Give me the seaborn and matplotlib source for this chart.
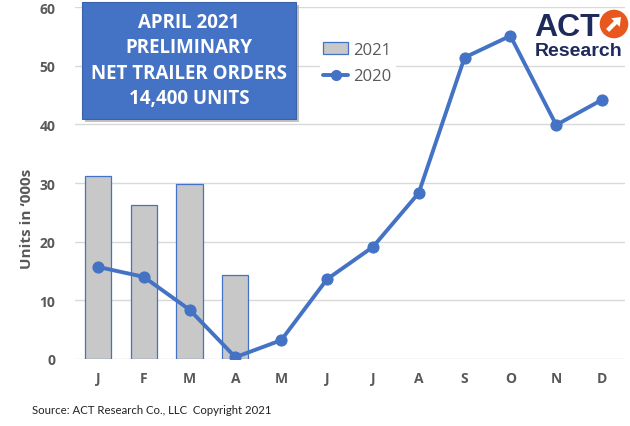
import matplotlib
matplotlib.use("Agg")
import matplotlib.pyplot as plt
import seaborn as sns
import pandas as pd
from matplotlib.patches import Patch, Circle, FancyArrow, FancyBboxPatch
from matplotlib.lines import Line2D

months = ["Jan", "Feb", "Mar", "Apr", "May", "Jun", "Jul", "Aug", "Sep", "Oct", "Nov", "Dec"]
tick_labels = ["J", "F", "M", "A", "M", "J", "J", "A", "S", "O", "N", "D"]
months_2021 = ["Jan", "Feb", "Mar", "Apr"]
values_2021 = [31.2, 26.3, 29.8, 14.4]
values_2020 = [15.7, 14.0, 8.4, 0.3, 3.2, 13.6, 19.1, 28.3, 51.4, 55.1, 39.9, 44.2]
yticks = [0, 10, 20, 30, 40, 50, 60]

blue = "#4472C4"
gray_txt = "#595959"

sns.set_theme(style="white")
plt.rcParams["font.family"] = ["Open Sans", "DejaVu Sans"]

fig = plt.figure(figsize=(6.3, 4.27), dpi=100)
ax = fig.add_axes([0.119, 0.157, 0.873, 0.824])

df21 = pd.DataFrame({"month": months_2021, "value": values_2021})
sns.barplot(data=df21, x="month", y="value", order=months, color="#C8C8C8",
            edgecolor=blue, linewidth=0.9, width=0.57, saturation=1, ax=ax, zorder=2)
df20 = pd.DataFrame({"month": months, "value": values_2020})
sns.lineplot(data=df20, x="month", y="value", sort=False, color=blue, linewidth=2.8,
             marker="o", markersize=8, markeredgecolor=blue, ax=ax, zorder=3)

ax.set_ylim(0, 60)
ax.set_xlim(-0.5, 11.5)
ax.set_yticks(yticks)
ax.set_yticklabels([str(t) for t in yticks], fontsize=10, fontweight="bold", color=gray_txt)
ax.set_xticks(range(len(months)))
ax.set_xticklabels(tick_labels, fontsize=10, fontweight="bold", color=gray_txt)
ax.tick_params(axis="x", pad=9, length=0)
ax.tick_params(axis="y", pad=14, length=0)
ax.yaxis.grid(True, color="#D9D9D9", linewidth=1)
ax.set_axisbelow(True)
for s in ax.spines.values():
    s.set_visible(False)
ax.set_xlabel("")
ax.set_ylabel("Units in \u2018000s", fontsize=11, fontweight="bold", color=gray_txt)
ax.yaxis.set_label_coords(-0.074, 0.40)

handles = [Patch(facecolor="#C8C8C8", edgecolor=blue, linewidth=0.9),
           Line2D([0], [0], color=blue, linewidth=2.8, marker="o", markersize=7)]
ax.legend(handles, ["2021", "2020"], loc="upper left", bbox_to_anchor=(0.43, 0.935),
          frameon=True, facecolor="white", edgecolor="white", framealpha=1,
          fontsize=12, labelcolor=gray_txt, handlelength=1.5, handletextpad=0.3,
          borderpad=0.2, labelspacing=0.65)

# Title box with shadow
shadow = FancyBboxPatch((85 / 630, 1 - 123 / 427), 214 / 630, 117 / 427,
                        boxstyle="square,pad=0", transform=fig.transFigure,
                        facecolor="#9a9a9a", edgecolor="none", alpha=0.6, zorder=5)
fig.patches.append(shadow)
box = FancyBboxPatch((82 / 630, 1 - 120 / 427), 214 / 630, 117 / 427,
                     boxstyle="square,pad=0", transform=fig.transFigure,
                     facecolor=blue, edgecolor="#3A62A8", linewidth=0.8, zorder=6)
fig.patches.append(box)
fig.text(189 / 630, 1 - 61 / 427,
         "APRIL 2021\nPRELIMINARY\nNET TRAILER ORDERS\n14,400 UNITS",
         ha="center", va="center", color="white", fontsize=13.5, fontweight="bold",
         linespacing=1.35, zorder=7)

# Logo
navy = "#1F2A5C"
orange = "#E8571E"
fig.text(534 / 630, 1 - 36 / 427, "ACT", ha="left", va="baseline", color=navy,
         fontsize=23, fontweight="heavy", family=["Liberation Sans", "DejaVu Sans"], zorder=7)
fig.text(535 / 630, 1 - 56 / 427, "Research", ha="left", va="baseline", color=navy,
         fontsize=14, fontweight="bold", family=["Liberation Sans", "DejaVu Sans"], zorder=7)
ax_logo = fig.add_axes([599 / 630, 1 - 40 / 427, 30 / 630, 30 / 427])
ax_logo.set_xlim(-1.05, 1.05)
ax_logo.set_ylim(-1.05, 1.05)
ax_logo.set_aspect("equal")
ax_logo.axis("off")
ax_logo.add_patch(Circle((0, 0), 1.0, facecolor=orange, edgecolor="none"))
ax_logo.add_patch(FancyArrow(-0.45, -0.45, 0.55, 0.55, width=0.3, head_width=0.85,
                             head_length=0.55, facecolor="white", edgecolor="none"))

fig.text(32 / 630, 1 - 411 / 427, "Source: ACT Research Co., LLC  Copyright 2021",
         ha="left", va="center", fontsize=8.2, color="#222222",
         family=["Lato", "DejaVu Sans"])

fig.savefig("out.png", dpi=100)
